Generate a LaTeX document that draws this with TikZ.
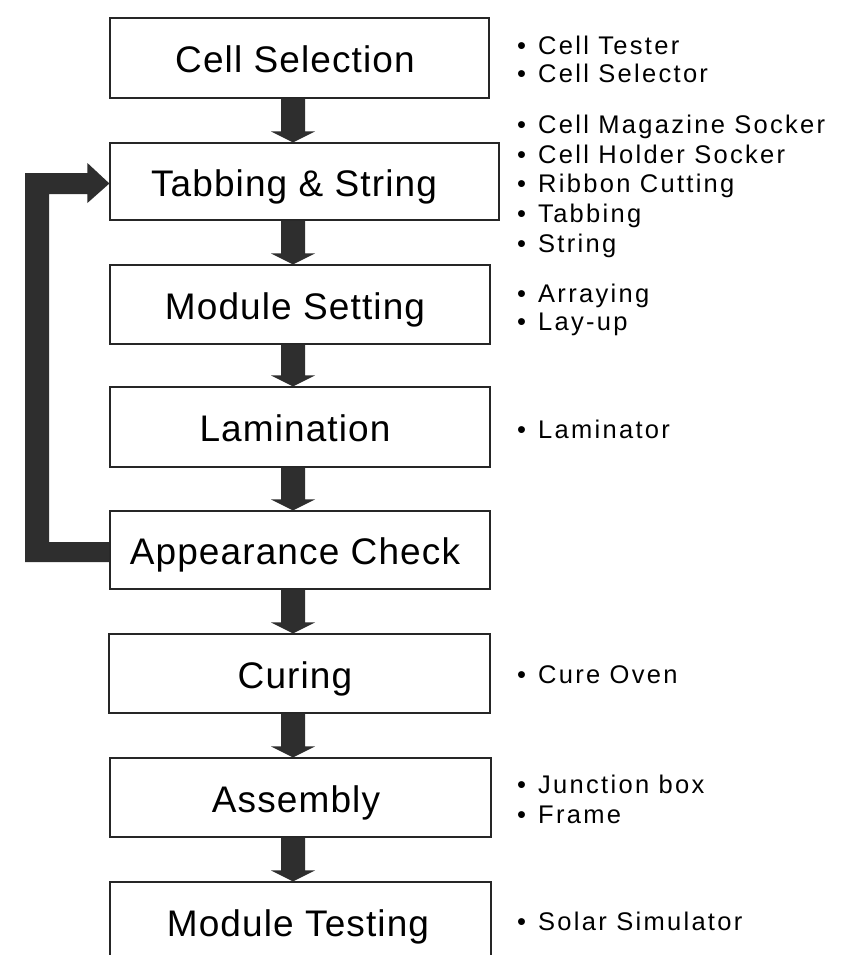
\documentclass[tikz,border=0pt]{standalone}
\usepackage{fontspec}
\setmainfont{Liberation Sans}
\newfontfamily\boxfont[LetterSpace=3]{Liberation Sans}
\newfontfamily\sidefont[LetterSpace=9]{Liberation Sans}
\usetikzlibrary{calc}
\newcommand\flowarr[2]{%
  \fill[flowfill] let \p1=(#1.south), \p2=(#2.north) in
    (281pt,\y1) -- (305pt,\y1) -- (305pt,\y2+11pt) -- (315pt,\y2+11pt)
    -- (293pt,\y2) -- (271pt,\y2+11pt) -- (281pt,\y2+11pt) -- cycle;}
\newcommand\sidebul{\makebox[21pt][l]{\textbullet}}
\begin{document}
\begin{tikzpicture}[x=1pt,y=-1pt,
  stepbox/.style={draw=black!85, line width=1.2pt, rectangle, inner sep=0pt},
  steplabel/.style={font=\boxfont\fontsize{37}{40}\selectfont, inner sep=0pt,
    text height=27pt, text depth=0pt, anchor=center},
  sidelabel/.style={font=\sidefont\fontsize{25.5}{28}\selectfont, inner sep=0pt,
    anchor=base west},
  flowfill/.style={fill=black!82}]
\useasboundingbox[fill=white] (0,0) rectangle (848,955);

% boxes
\node[stepbox, minimum width=379pt, minimum height=80pt] (b1) at (299.5,58) {};
\node[stepbox, minimum width=389pt, minimum height=77pt] (b2) at (304.5,181.5) {};
\node[stepbox, minimum width=380pt, minimum height=79pt] (b3) at (300,304.5) {};
\node[stepbox, minimum width=380pt, minimum height=80pt] (b4) at (300,427) {};
\node[stepbox, minimum width=380pt, minimum height=78pt] (b5) at (300,550) {};
\node[stepbox, minimum width=381pt, minimum height=79pt] (b6) at (299.5,673.5) {};
\node[stepbox, minimum width=381pt, minimum height=79pt] (b7) at (300.5,797.5) {};
\node[stepbox, minimum width=381pt, minimum height=80pt] (b8) at (300.5,922) {};

% box texts
\node[steplabel] (t1) at (295,59) {Cell Selection};
\node[steplabel] (t2) at (294,182.5) {Tabbing \& String};
\node[steplabel] (t3) at (295,305.5) {Module Setting};
\node[steplabel] (t4) at (295,428) {Lamination};
\node[steplabel] (t5) at (295,551) {Appearance Check};
\node[steplabel] (t6) at (295,674.5) {Curing};
\node[steplabel] (t7) at (296,798.5) {Assembly};
\node[steplabel] (t8) at (298,923) {Module Testing};

% flow arrows
\flowarr{b1}{b2}
\flowarr{b2}{b3}
\flowarr{b3}{b4}
\flowarr{b4}{b5}
\flowarr{b5}{b6}
\flowarr{b6}{b7}
\flowarr{b7}{b8}

% feedback arrow
\fill[flowfill] let \p1=(b5.west), \p2=(b2.west) in
  (\x1,\y1+8pt) -- (49pt,\y1+8pt) -- (49pt,\y2-12.5pt) -- (\x2-22pt,\y2-12.5pt)
  -- (\x2-22pt,\y2-21.5pt) -- (\x2,\y2-2pt) -- (\x2-22pt,\y2+18.5pt)
  -- (\x2-22pt,\y2+8.5pt) -- (25pt,\y2+8.5pt) -- (25pt,\y1-12pt) -- (\x1,\y1-12pt) -- cycle;

% equipment lists
\node[sidelabel] (s1a) at (517,55) {\sidebul Cell Tester};
\node[sidelabel] (s1b) at (517,83) {\sidebul Cell Selector};
\node[sidelabel] (s2a) at (517,133) {\sidebul Cell Magazine Socker};
\node[sidelabel] (s2b) at (517,163) {\sidebul Cell Holder Socker};
\node[sidelabel] (s2c) at (517,192) {\sidebul Ribbon Cutting};
\node[sidelabel] (s2d) at (517,222) {\sidebul Tabbing};
\node[sidelabel] (s2e) at (517,252) {\sidebul String};
\node[sidelabel] (s3a) at (517,302) {\sidebul Arraying};
\node[sidelabel] (s3b) at (517,330) {\sidebul Lay-up};
\node[sidelabel] (s4a) at (517,438) {\sidebul Laminator};
\node[sidelabel] (s6a) at (517,683) {\sidebul Cure Oven};
\node[sidelabel] (s7a) at (517,793) {\sidebul Junction box};
\node[sidelabel] (s7b) at (517,823) {\sidebul Frame};
\node[sidelabel] (s8a) at (517,930) {\sidebul Solar Simulator};
\end{tikzpicture}
\end{document}
